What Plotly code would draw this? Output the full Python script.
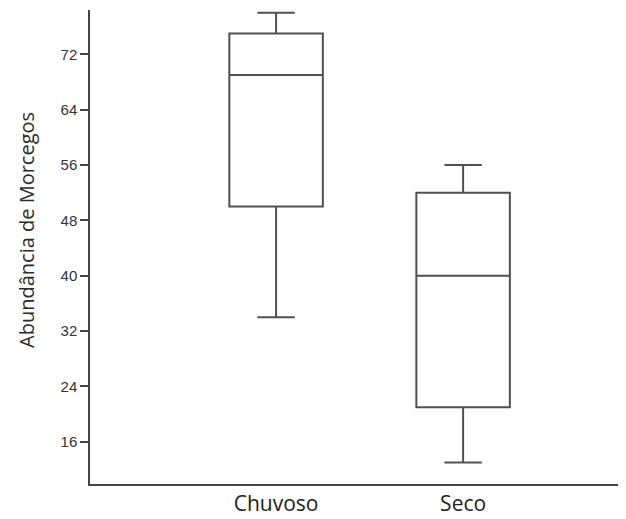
import plotly.graph_objects as go

categories = ["Chuvoso", "Seco"]
lower_fence = [34, 13]
q1_vals = [50, 21]
medians = [69, 40]
q3_vals = [75, 52]
upper_fence = [78, 56]
y_ticks = [16, 24, 32, 40, 48, 56, 64, 72]

fig = go.Figure()
fig.add_trace(go.Box(
    x=categories,
    q1=q1_vals,
    median=medians,
    q3=q3_vals,
    lowerfence=lower_fence,
    upperfence=upper_fence,
    width=0.5,
    whiskerwidth=0.4,
    fillcolor="rgba(255,255,255,0)",
    line=dict(color="#505050", width=2),
    boxpoints=False,
    hoverinfo="skip",
))

fig.add_annotation(
    text="Abundância de Morcegos",
    xref="paper", yref="paper",
    x=-0.1175, y=0.536,
    xanchor="center", yanchor="middle",
    textangle=-90, showarrow=False,
    font=dict(family="Open Sans", size=20, color="#2a2a2a"),
)

fig.update_layout(
    width=618, height=511,
    margin=dict(l=82, r=0, t=2, b=35, autoexpand=False),
    paper_bgcolor="white",
    plot_bgcolor="white",
    showlegend=False,
    xaxis=dict(
        range=[-0.995, 1.871],
        automargin=False,
        showgrid=False, zeroline=False,
        showline=True, linecolor="#444444", linewidth=1.5,
        ticks="",
        tickfont=dict(family="Open Sans", size=21, color="#222222"),
        mirror=False,
    ),
    yaxis=dict(
        range=[9.9, 78.4],
        automargin=False,
        tickvals=y_ticks,
        showgrid=False, zeroline=False,
        showline=True, linecolor="#444444", linewidth=1.5,
        ticks="outside", ticklen=8, tickcolor="#444444", tickwidth=1.5,
        tickfont=dict(family="Liberation Sans", size=15, color="#333333"),
    ),
)

fig.write_html("out.html")
